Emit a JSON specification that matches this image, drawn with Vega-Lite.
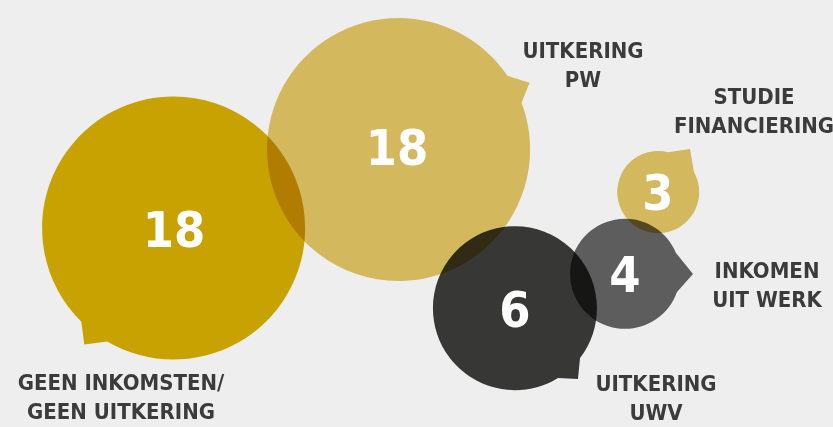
{
  "$schema": "https://vega.github.io/schema/vega-lite/v6.json",
  "autosize": "none",
  "width": 833,
  "height": 427,
  "padding": 0,
  "background": "#eeeeee",
  "config": {"view": {"stroke": null}},
  "data": {
    "values": [
      {"category": "Geen inkomsten", "value": 18, "x": 174, "y": 229, "lx": 121, "ly": 390, "label": "GEEN INKOMSTEN/\nGEEN UITKERING"},
      {"category": "Uitkering PW", "value": 18, "x": 397, "y": 147, "lx": 583, "ly": 58, "label": "UITKERING\nPW"},
      {"category": "Studiefinanciering", "value": 3, "x": 658, "y": 192, "lx": 754, "ly": 104, "label": "STUDIE\nFINANCIERING"},
      {"category": "Inkomen uit werk", "value": 4, "x": 625, "y": 274, "lx": 767, "ly": 278, "label": "INKOMEN\nUIT WERK"},
      {"category": "Uitkering UWV", "value": 6, "x": 515, "y": 309, "lx": 656, "ly": 391, "label": "UITKERING\nUWV"}
    ]
  },
  "encoding": {
    "x": {"field": "x", "type": "quantitative", "scale": {"domain": [0, 833], "nice": false, "zero": false}, "axis": null},
    "y": {"field": "y", "type": "quantitative", "scale": {"domain": [0, 427], "nice": false, "zero": false, "reverse": true}, "axis": null}
  },
  "layer": [
    {
      "mark": {"type": "point", "filled": true, "opacity": 1, "strokeWidth": 0, "blend": "multiply"},
      "encoding": {
        "color": {
          "field": "category", "type": "nominal", "legend": null,
          "scale": {
            "domain": ["Geen inkomsten", "Uitkering PW", "Studiefinanciering", "Inkomen uit werk", "Uitkering UWV"],
            "range": ["#d6ae00", "#e3c563", "#e3c563", "#636363", "#3b3b39"]
          }
        },
        "shape": {
          "field": "category", "type": "nominal", "legend": null,
          "scale": {
            "domain": ["Geen inkomsten", "Uitkering PW", "Studiefinanciering", "Inkomen uit werk", "Uitkering UWV"],
            "range": [
              "M -0.705 0.705 L -0.682 0.879 L -0.508 0.856 A 1 1 0 1 0 -0.705 0.705 Z",
              "M 0.840 -0.542 L 1.008 -0.489 L 0.947 -0.336 A 1 1 0 1 1 0.840 -0.542 Z",
              "M 0.244 -0.970 L 0.780 -1.049 L 0.878 -0.488 A 1 1 0 1 1 0.244 -0.970 Z",
              "M 0.927 -0.382 L 1.236 0 L 0.945 0.327 A 1 1 0 1 1 0.927 -0.382 Z",
              "M 0.793 0.598 L 0.768 0.854 L 0.524 0.841 A 1 1 0 1 1 0.793 0.598 Z"
            ]
          }
        },
        "size": {
          "field": "value", "type": "quantitative", "legend": null,
          "scale": {"domain": [3, 4, 6, 18], "range": [6724, 12100, 26896, 69169]}
        }
      }
    },
    {
      "mark": {"type": "text", "font": "DejaVu Sans Condensed", "fontWeight": "bold", "fontSize": 50, "color": "#ffffff", "align": "center", "baseline": "alphabetic", "dy": 18},
      "encoding": {"text": {"field": "value", "type": "quantitative"}}
    },
    {
      "mark": {"type": "text", "font": "DejaVu Sans Condensed", "fontWeight": "bold", "fontSize": 22, "color": "#3b3b3b", "align": "center", "baseline": "alphabetic", "lineBreak": "\n", "lineHeight": 28.5},
      "encoding": {
        "x": {"field": "lx", "type": "quantitative"},
        "y": {"field": "ly", "type": "quantitative"},
        "text": {"field": "label", "type": "nominal"}
      }
    }
  ]
}
